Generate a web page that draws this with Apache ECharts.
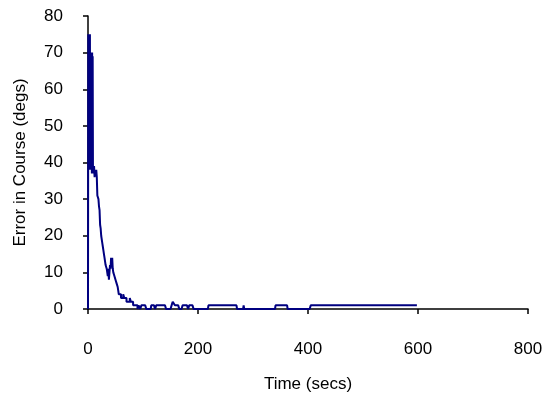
<!DOCTYPE html>
<html>
<head>
<meta charset="utf-8">
<script src="https://cdn.jsdelivr.net/npm/echarts@6/dist/echarts.min.js"></script>
<style>html,body{margin:0;padding:0;background:#fff;}#c{width:547px;height:398px;}</style>
</head>
<body>
<div id="c"></div>
<script>
var times = [0,0.5,1,1.5,2,2.5,3,3.5,4,4.5,5,5.5,6,6.5,7,7.5,8,8.5,9,10,11,12,13,14,15,16,17,18,19,20,21,22,23,24,25,26,27,28,29,30,31,32,33,34,35,36,37,38,39,40,41,42,43,44,45,46,47,48,49,50,52,54,55,56,58,60,62,64,66,68,70,73,76,78,80,82,86,88,90,92,95,97,104,106,114,115,120,122,124,140,142,150,152,154,157,158,164,166,170,172,180,182,184,190,192,218,219,270,271,282,283,284,340,341,362,363,403,405,598];
var errors = [0,75,40,75,38,74,39,75,38,70,40,70,39,70,37,70,38,69,39,37,39,36,38,37,38,36,31,31,30,28,27,23,22,20,20,18,17,16,15,14,14,12,12,11,10,9,11,8,10,12,11,14,12,14,11,10,10,9,9,8,7,6,5,4,4,3,3,4,3,3,2,2,3,2,2,1,1,1,0,1,0,1,1,0,0,1,1,0,1,1,0,0,1,2,2,1,1,0,0,1,1,0,1,1,0,0,1,1,0,0,1,0,0,1,1,0,0,1,1];
var xTicks = [0,200,400,600,800];
var yTicks = [0,10,20,30,40,50,60,70,80];

var pts = times.map(function(t,i){return [t, errors[i]];});
var font = 'Arial, "Liberation Sans", sans-serif';
var chart = echarts.init(document.getElementById('c'), null, {renderer:'canvas'});
chart.setOption({
  animation:false,
  backgroundColor:'#ffffff',
  grid:{left:88,right:19,top:16,bottom:86},
  xAxis:{
    type:'value', min:xTicks[0], max:xTicks[xTicks.length-1], interval:200,
    name:'Time (secs)', nameLocation:'middle', nameGap:67,
    nameTextStyle:{color:'#000',fontSize:17,fontFamily:font},
    axisLine:{lineStyle:{color:'#000',width:1.5}},
    axisTick:{show:true,inside:false,length:5,lineStyle:{color:'#000',width:1.5}},
    axisLabel:{color:'#000',fontSize:17,fontFamily:font,margin:32},
    splitLine:{show:false}
  },
  yAxis:{
    type:'value', min:yTicks[0], max:yTicks[yTicks.length-1], interval:10,
    name:'Error in Course (degs)', nameLocation:'middle', nameGap:59, nameRotate:90,
    nameTextStyle:{color:'#000',fontSize:17,fontFamily:font},
    axisLine:{show:true,lineStyle:{color:'#000',width:1.5}},
    axisTick:{show:true,inside:false,length:5,lineStyle:{color:'#000',width:1.5}},
    axisLabel:{color:'#000',fontSize:17,fontFamily:font,margin:25},
    splitLine:{show:false}
  },
  series:[{
    type:'line', data:pts, showSymbol:false, symbol:'none', step:'end',
    lineStyle:{color:'#000080',width:2}, itemStyle:{color:'#000080'}
  }]
});
</script>
</body>
</html>
